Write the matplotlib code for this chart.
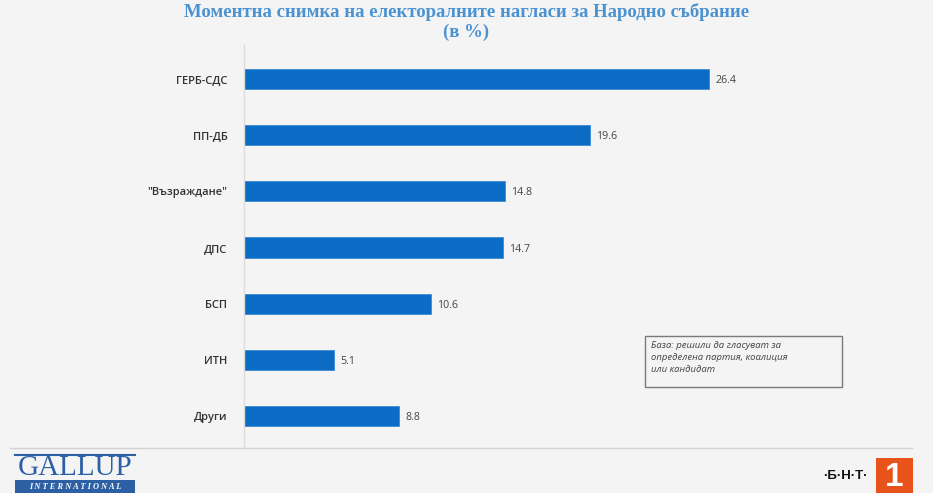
import matplotlib
matplotlib.use("Agg")
import matplotlib.pyplot as plt
from matplotlib.patches import Rectangle
from matplotlib.lines import Line2D

categories = ["ГЕРБ-СДС", "ПП-ДБ", "\"Възраждане\"", "ДПС", "БСП", "ИТН", "Други"]
values = [26.4, 19.6, 14.8, 14.7, 10.6, 5.1, 8.8]
value_labels = ["26.4", "19.6", "14.8", "14.7", "10.6", "5.1", "8.8"]

title = "Моментна снимка на електоралните нагласи за Народно събрание\n(в %)"
note = "База: решили да гласуват за\nопределена партия, коалиция\nили кандидат"

W, H = 933, 493
BG = "#f4f4f4"
BAR = "#0a6cc4"
TITLE_C = "#4a92d2"

fig = plt.figure(figsize=(W / 100, H / 100), dpi=100, facecolor=BG)

def fx(px):
    return px / W

def fy(py):
    return 1 - py / H

ax = fig.add_axes([fx(244), fy(447), fx(914) - fx(244), fy(45) - fy(447)])
ax.set_facecolor(BG)
ypos = list(range(len(categories)))
ax.barh(ypos, values, height=0.36, color=BAR, edgecolor="#3f8ad6", linewidth=0.6)
ax.set_xlim(0, 38)
ax.set_ylim(6.55, -0.605)
ax.set_yticks(ypos)
ax.set_yticklabels(categories, fontsize=8, color="#333333", family=["Open Sans", "DejaVu Sans"], fontweight="semibold")
ax.tick_params(axis="y", length=0, pad=12)
ax.set_xticks([])
for s in ["top", "right", "bottom"]:
    ax.spines[s].set_visible(False)
ax.spines["left"].set_color("#dcdcdc")
ax.spines["left"].set_linewidth(1)

for y, v, lab in zip(ypos, values, value_labels):
    ax.text(v + 0.35, y, lab, va="center_baseline", ha="left", fontsize=7.7, color="#444444",
            family=["Open Sans", "DejaVu Sans"])

# title
fig.text(0.5, fy(22), title, ha="center", va="center", fontsize=13.5, color=TITLE_C,
         family=["Liberation Serif", "DejaVu Serif"], fontweight="bold", linespacing=1.2)

# note box
fig.patches.append(Rectangle((fx(645), fy(387)), fx(842) - fx(645), fy(336) - fy(387),
                             transform=fig.transFigure, facecolor="none", edgecolor="#7a7a7a",
                             linewidth=1))
fig.text(fx(651), fy(341), note, ha="left", va="top", fontsize=6.8, color="#444444",
         style="italic", family=["Open Sans", "DejaVu Sans"], linespacing=1.45)

# bottom separator
fig.add_artist(Line2D([fx(10), fx(912)], [fy(448), fy(448)], transform=fig.transFigure,
                      color="#d2d2d2", linewidth=1))

# Gallup logo
fig.add_artist(Line2D([fx(15), fx(135)], [fy(455), fy(455)], transform=fig.transFigure,
                      color="#2c5fa3", linewidth=1.5))
fig.text(fx(75), fy(468), "GALLUP", ha="center", va="center", fontsize=21, color="#2c5fa3",
         family=["Liberation Serif", "DejaVu Serif"])
fig.patches.append(Rectangle((fx(15), fy(493)), fx(135) - fx(15), fy(480) - fy(493),
                             transform=fig.transFigure, facecolor="#2c5fa3", edgecolor="none"))
fig.text(fx(75), fy(487), "I N T E R N A T I O N A L", ha="center", va="center", fontsize=6,
         color="white", style="italic", fontweight="bold",
         family=["Liberation Serif", "DejaVu Serif"])

# BNT logo
fig.text(fx(845), fy(476), "·Б·Н·Т·", ha="center", va="center", fontsize=9.5, color="#111111",
         fontweight="bold", family=["Liberation Sans", "DejaVu Sans"])
fig.patches.append(Rectangle((fx(876), fy(493)), fx(913) - fx(876), fy(458) - fy(493),
                             transform=fig.transFigure, facecolor="#e8531c", edgecolor="none"))
fig.text(fx(894.5), fy(477), "1", ha="center", va="center", fontsize=24, color="white",
         fontweight="bold", family=["Liberation Sans Narrow", "Liberation Sans", "DejaVu Sans"])

fig.savefig("out.png", dpi=100, facecolor=BG)
